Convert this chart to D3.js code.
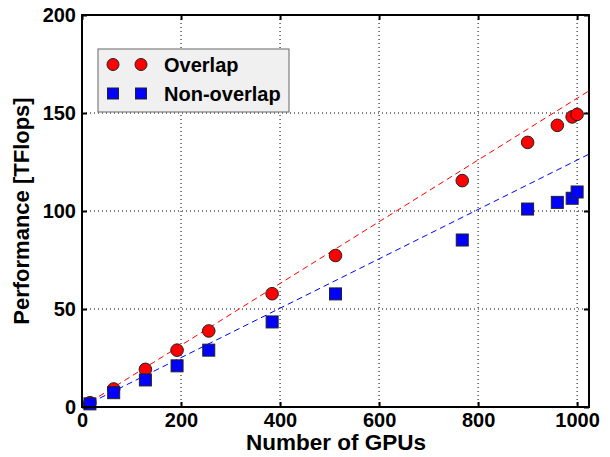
<!DOCTYPE html>
<html>
<head>
<meta charset="utf-8">
<script src="https://cdn.jsdelivr.net/npm/d3@7"></script>
<style>
  html, body { margin: 0; padding: 0; background: #fff; }
  svg { display: block; }
  text { font-family: "Liberation Sans", Arial, sans-serif; font-weight: bold; }
</style>
</head>
<body>
<svg id="chart" width="610" height="457"></svg>
<script>
// Measured performance vs GPU count
const gpus = [16, 64, 128, 192, 256, 384, 512, 768, 900, 960, 990, 1000];
const overlap = [2.2, 9.2, 19.2, 29.0, 38.8, 57.8, 77.3, 115.5, 135.0, 143.7, 148.0, 149.3];
const nonOverlap = [1.6, 7.3, 13.8, 21.0, 29.0, 43.4, 57.7, 85.2, 101.0, 104.4, 106.5, 109.7];

// Linear-scaling reference lines (endpoints in data units)
const fitGpus = [0, 1024];
const fitOverlap = [0, 161.3];
const fitNonOverlap = [0, 129];

const xTicks = [0, 200, 400, 600, 800, 1000];
const yTicks = [0, 50, 100, 150, 200];
const seriesNames = ["Overlap", "Non-overlap"];

const svg = d3.select("#chart");
const m = { left: 82, right: 21, top: 15, bottom: 50 };
const W = 610, H = 457;
const x = d3.scaleLinear().domain([0, 1024]).range([m.left, W - m.right]);
const y = d3.scaleLinear().domain([0, 200]).range([H - m.bottom, m.top]);

// dotted grid
const grid = svg.append("g");
grid.selectAll(".gx").data(xTicks.filter(t => t > 0)).join("line")
  .attr("x1", d => x(d)).attr("x2", d => x(d))
  .attr("y1", y(200)).attr("y2", y(0))
  .attr("stroke", "#000").attr("stroke-width", 1).attr("stroke-dasharray", "1,3");
grid.selectAll(".gy").data(yTicks.filter(t => t > 0 && t < 200)).join("line")
  .attr("x1", x(0)).attr("x2", x(1024))
  .attr("y1", d => y(d)).attr("y2", d => y(d))
  .attr("stroke", "#000").attr("stroke-width", 1).attr("stroke-dasharray", "1,3");

// fit lines
const line = d3.line().x(d => x(d[0])).y(d => y(d[1]));
svg.append("path").datum(d3.zip(fitGpus, fitOverlap)).attr("d", line)
  .attr("fill", "none").attr("stroke", "#ff0000").attr("stroke-width", 1).attr("stroke-dasharray", "6,4");
svg.append("path").datum(d3.zip(fitGpus, fitNonOverlap)).attr("d", line)
  .attr("fill", "none").attr("stroke", "#0000ff").attr("stroke-width", 1).attr("stroke-dasharray", "6,4");

// markers (squares drawn above circles)
const plot = svg.append("g");
const sq = 12;
plot.selectAll(".ci").data(d3.zip(gpus, overlap)).join("circle")
  .attr("cx", d => x(d[0])).attr("cy", d => y(d[1])).attr("r", 6.3)
  .attr("fill", "#ff0000").attr("stroke", "#222").attr("stroke-width", 1);
plot.selectAll(".sq").data(d3.zip(gpus, nonOverlap)).join("rect")
  .attr("x", d => x(d[0]) - sq / 2).attr("y", d => y(d[1]) - sq / 2)
  .attr("width", sq).attr("height", sq)
  .attr("fill", "#0000ff").attr("stroke", "#222").attr("stroke-width", 1);

// axes: inward ticks on all four sides
const tickLen = 5;
const fmt = d3.format("d");
const axB = svg.append("g").attr("transform", `translate(0,${y(0)})`)
  .call(d3.axisBottom(x).tickValues(xTicks).tickSize(-tickLen).tickPadding(6).tickFormat(fmt));
const axT = svg.append("g").attr("transform", `translate(0,${y(200)})`)
  .call(d3.axisTop(x).tickValues(xTicks).tickSize(-tickLen).tickFormat(""));
const axL = svg.append("g").attr("transform", `translate(${x(0)},0)`)
  .call(d3.axisLeft(y).tickValues(yTicks).tickSize(-tickLen).tickPadding(6).tickFormat(fmt));
const axR = svg.append("g").attr("transform", `translate(${x(1024)},0)`)
  .call(d3.axisRight(y).tickValues(yTicks).tickSize(-tickLen).tickFormat(""));
[axB, axT, axL, axR].forEach(a => {
  a.select(".domain").remove();
  a.selectAll(".tick line").attr("stroke", "#000").attr("stroke-width", 2);
  a.selectAll(".tick text").attr("fill", "#000")
    .style("font-size", "20px").style("font-family", "'Liberation Sans', Arial, sans-serif")
    .style("font-weight", "bold");
});

// frame
svg.append("rect").attr("x", x(0)).attr("y", y(200))
  .attr("width", x(1024) - x(0)).attr("height", y(0) - y(200))
  .attr("fill", "none").attr("stroke", "#000").attr("stroke-width", 2);

// axis titles
svg.append("text").attr("x", 336).attr("y", 450)
  .attr("text-anchor", "middle").style("font-size", "22.5px").text("Number of GPUs");
svg.append("text").attr("transform", `translate(29,${(y(0) + y(200)) / 2}) rotate(-90)`)
  .attr("text-anchor", "middle").style("font-size", "22px").text("Performance [TFlops]");

// legend
const lg = svg.append("g");
lg.append("rect").attr("x", 98).attr("y", 49).attr("width", 191).attr("height", 63)
  .attr("fill", "#f0f0f0").attr("stroke", "#666").attr("stroke-width", 1);
const rowY = [64.5, 93.5];
[113, 141].forEach(cx => {
  lg.append("circle").attr("cx", cx).attr("cy", rowY[0]).attr("r", 6)
    .attr("fill", "#ff0000").attr("stroke", "#222").attr("stroke-width", 1);
  lg.append("rect").attr("x", cx - 5.5).attr("y", rowY[1] - 5.5).attr("width", 11).attr("height", 11)
    .attr("fill", "#0000ff").attr("stroke", "#222").attr("stroke-width", 1);
});
lg.selectAll(".lt").data(seriesNames).join("text")
  .attr("x", 164).attr("y", (d, i) => rowY[i] + 7)
  .style("font-size", "20px").text(d => d);
</script>
</body>
</html>
